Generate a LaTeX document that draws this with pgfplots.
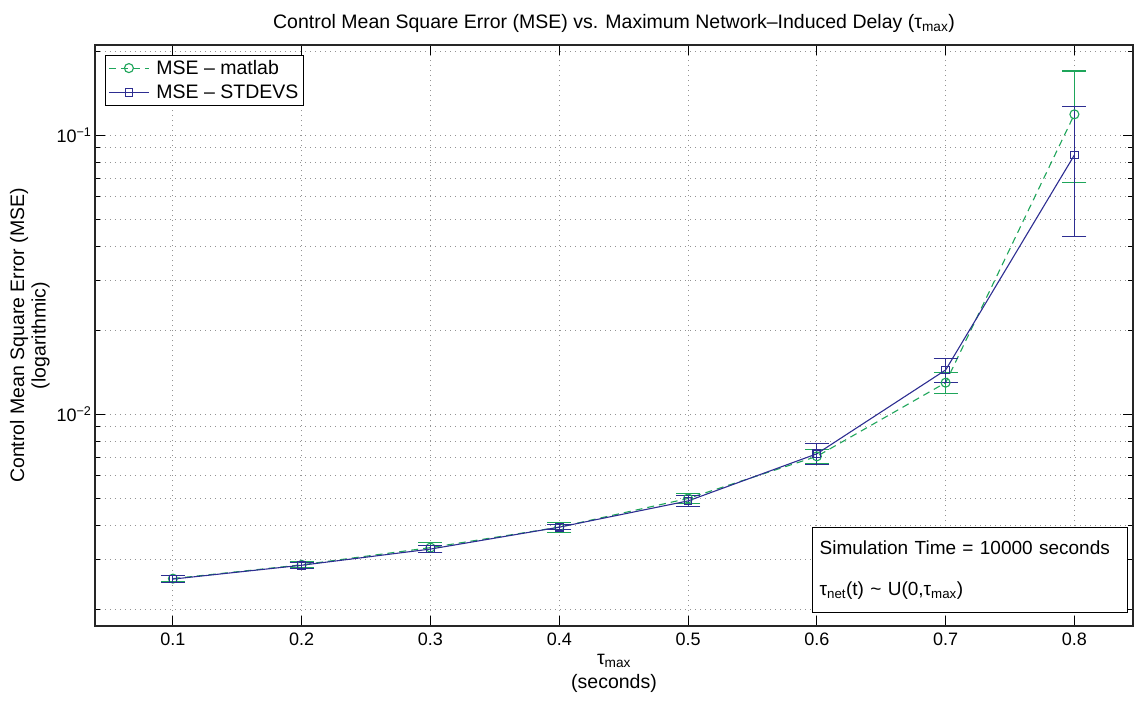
\documentclass[border=0pt]{standalone}
\usepackage{fontspec}
\setmainfont{Liberation Sans}
\usepackage{pgfplots}
\pgfplotsset{compat=1.18}
\definecolor{mgreen}{RGB}{30,165,90}
\definecolor{mblue}{RGB}{45,45,145}
\newcommand{\fs}[1]{\fontsize{#1}{#1}\selectfont}
\begin{document}
\begin{tikzpicture}
\begin{axis}[
  scale only axis,
  width=1038pt, height=581pt,
  ymode=log,
  xmin=0.0395, xmax=0.8455,
  ymin=0.001738, ymax=0.2102,
  xtick={0.1,0.2,0.3,0.4,0.5,0.6,0.7,0.8},
  xticklabels={0.1,0.2,0.3,0.4,0.5,0.6,0.7,0.8},
  ytick={0.01,0.1},
  yticklabels={10\textsuperscript{−2},10\textsuperscript{−1}},
  minor ytick={0.002,0.003,0.004,0.005,0.006,0.007,0.008,0.009,0.02,0.03,0.04,0.05,0.06,0.07,0.08,0.09,0.2},
  tick align=inside,
  major tick length=10pt, minor tick length=5pt,
  tick style={black, line width=0.9pt},
  axis line style={black!85, line width=1.4pt},
  grid=both,
  major grid style={dash pattern=on 1pt off 4pt, gray!85, line width=0.9pt},
  minor grid style={dash pattern=on 1pt off 4pt, gray!85, line width=0.9pt},
  ticklabel style={font=\fs{18}},
  xticklabel style={yshift=-3pt},
  title={Control Mean Square Error (MSE) vs. Maximum Network–Induced Delay (τ\textsubscript{max})},
  title style={font=\fs{19.5}, yshift=3pt},
  xlabel={τ\textsubscript{max}\\[5pt](seconds)},
  xlabel style={font=\fs{19.5}, align=center, yshift=-2pt},
  ylabel={Control Mean Square Error (MSE)\\[2pt](logarithmic)},
  ylabel style={font=\fs{19.5}, align=center},
  legend style={at={(0.0096,0.983)}, anchor=north west, font=\fs{19.5}, draw=black, line width=0.8pt,
    inner sep=3pt, row sep=5pt, cells={anchor=west}},
  legend image code/.code={\draw[mark repeat=2,mark phase=2] plot coordinates {(0pt,0pt) (20pt,0pt) (40pt,0pt)};},
]
\addplot[mgreen, line width=1.1pt, dash pattern=on 7pt off 5pt, mark=o, mark size=4.5pt,
  mark options={solid},
  error bars/.cd, y dir=both, y explicit,
  error bar style={solid, line width=1.1pt},
  error mark options={rotate=90, mark size=12pt, line width=1.1pt}]
coordinates {
(0.1,0.00257) +- (0,0.00007)
(0.2,0.00288) +- (0,0.00007)
(0.3,0.00332) +- (0,0.00014)
(0.4,0.00393) +- (0,0.00016)
(0.5,0.00498) +- (0,0.00020)
(0.6,0.00705) +- (0,0.00040)
(0.7,0.01295) +- (0,0.00110)
(0.8,0.1186) +- (0,0.0510)
};
\addlegendentry{\hspace{5pt}MSE – matlab}
\addplot[mblue, line width=1.1pt, mark=square, mark size=3.8pt,
  error bars/.cd, y dir=both, y explicit,
  error bar style={solid, line width=1.1pt},
  error mark options={rotate=90, mark size=12pt, line width=1.1pt}]
coordinates {
(0.1,0.00256) +- (0,0.00007)
(0.2,0.00287) +- (0,0.00007)
(0.3,0.00328) +- (0,0.00009)
(0.4,0.00393) +- (0,0.00008)
(0.5,0.00488) +- (0,0.00021)
(0.6,0.00720) +- (0,0.00063)
(0.7,0.01438) +- (0,0.00144)
(0.8,0.0848) +- (0,0.0414)
};
\addlegendentry{\hspace{5pt}MSE – STDEVS}
\node[draw=black, line width=0.8pt, fill=white, anchor=south east, align=left,
  font=\fs{19}, text width=301pt, minimum height=85pt, inner xsep=7pt, inner ysep=9pt]
  at (rel axis cs:0.9952,0.0224)
  {Simulation Time = 10000 seconds\\[22pt] τ\textsubscript{net}(t) \textasciitilde\ U(0,τ\textsubscript{max})};
\end{axis}
\pgfresetboundingbox
\path ([shift={(-95pt,-79pt)}]current axis.south west) rectangle ++(1135pt,705pt);
\end{tikzpicture}
\end{document}
